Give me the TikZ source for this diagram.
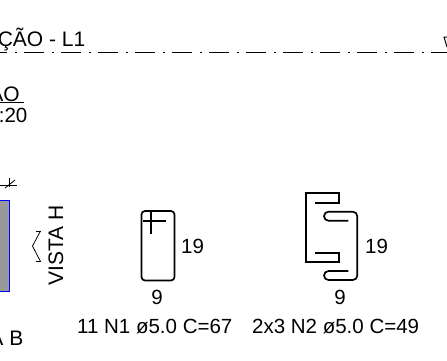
\documentclass[tikz,border=0pt]{standalone}
\usepackage{fontspec}
\setmainfont{Liberation Sans}
\tikzset{
  txt/.style={inner sep=0pt,font=\fontsize{20.5}{24}\selectfont,text=black},
  big/.style={inner sep=0pt,font=\fontsize{21}{24}\selectfont,text=black},
  thin line/.style={line width=0.8pt,black},
  bar/.style={line width=1.7pt,black,line join=miter},
  axisline/.style={line width=1.1pt,black}
}
\begin{document}
\begin{tikzpicture}[x=1pt,y=-1pt]
\useasboundingbox (0,0) rectangle (447,360);
\clip (0,0) rectangle (447,360);
% title
\node[big,anchor=base east] (title) at (85.5,46) {ÇÃO - L1};
\foreach \s in {-13,24,61,98,135,172,209,246,283,320,357,394,431}{
  \draw[axisline] (\s,52.5) -- ++(19.5,0);
  \draw[axisline] (\s+28,52.5) -- ++(2,0);
}
\draw[line width=1pt] (447,37) -- (444,37) -- (447,47);
% subtitle
\node[big,anchor=base east] (sub1) at (20,101) {AO};
\draw[line width=0.9pt] (0,102.5) -- (24,102.5);
\node[txt,anchor=base east] (sub2) at (27.5,122) {:20};
% section marks
\draw[thin line] (0,185) -- (17,185);
\draw[thin line] (5,188) -- (15,180);
\draw[thin line] (9.5,177.5) -- (9.5,187);
\path[fill=black!40,draw=blue,line width=1pt] (-2,200.5) rectangle (9.5,291.5);
\node[big,anchor=base east] (ab) at (23.5,345) {A B};
% vista
\node[big,rotate=90,anchor=base] (vista) at (63,245.5) {VISTA H};
\draw[thin line] (40.5,231) -- (32.5,246) -- (40.5,261.5);
\draw[thin line] (35.5,231) -- (40.5,231);
\draw[thin line] (35.5,261.5) -- (40.5,261.5);
% N1
\draw[bar,rounded corners=3.5pt] (141.5,211) rectangle (174.5,280.5);
\draw[bar] (143,221) -- (165.5,221);
\draw[bar] (151,211) -- (151,234);
\node[txt,anchor=base west] (n1h) at (181,253) {19};
\node[txt,anchor=base] (n1w) at (157,304) {9};
\node[txt,anchor=base west] (n1l) at (77,333) {11 N1 ø5.0 C=67};
% N2
\draw[bar] (315,202.7) -- (339.3,202.7) -- (339.3,193.3) -- (306,193.3) -- (306,261.7) -- (339.3,261.7) -- (339.3,252.7) -- (315,252.7);
\draw[bar,rounded corners=4.5pt] (348.3,220.7) -- (324,220.7) -- (324,211.7) -- (357.3,211.7) -- (357.3,280) -- (324,280) -- (324,271) -- (348.3,271);
\node[txt,anchor=base west] (n2h) at (365,253) {19};
\node[txt,anchor=base] (n2w) at (340,304) {9};
\node[txt,anchor=base west] (n2l) at (252,333) {2x3 N2 ø5.0 C=49};
\end{tikzpicture}
\end{document}
